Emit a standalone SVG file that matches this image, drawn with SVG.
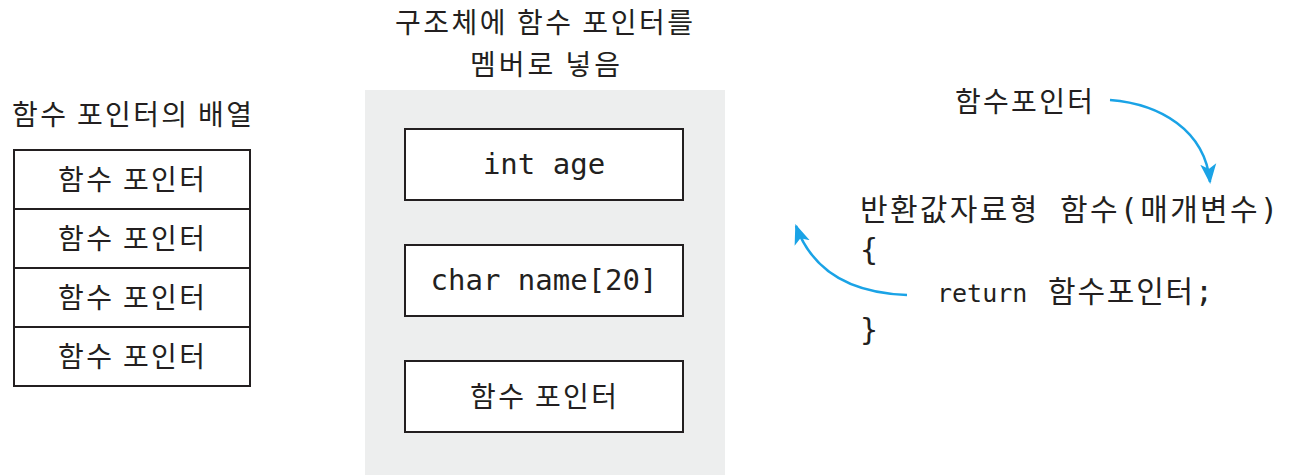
<svg xmlns="http://www.w3.org/2000/svg" width="1302" height="475" viewBox="0 0 1302 475">
<style>
.k{font-family:"Noto Sans CJK KR","Noto Sans",sans-serif;font-size:28px;fill:#231f20}
.m{font-family:"DejaVu Sans Mono","Noto Sans CJK KR",monospace;font-size:29px;fill:#231f20}
.c{font-family:"DejaVu Sans Mono","Noto Sans CJK KR",monospace;font-size:30px;fill:#231f20}
.box{fill:#fff;stroke:#231f20;stroke-width:2}
.arr{fill:none;stroke:#1aa3e6;stroke-width:2.5}
</style>
<defs>
<marker id="ah" viewBox="0 0 20 20" refX="18" refY="10" markerWidth="20" markerHeight="20" markerUnits="userSpaceOnUse" orient="auto">
<path d="M0,2 L20,10 L0,18 L5,10 Z" fill="#1aa3e6"/>
</marker>
</defs>
<rect x="0" y="0" width="1302" height="475" fill="#fff"/>
<g id="array">
<text class="k" x="12" y="125" textLength="240" lengthAdjust="spacing">함수 포인터의 배열</text>
<rect class="box" x="14" y="150" width="236" height="59"/>
<rect class="box" x="14" y="209" width="236" height="59"/>
<rect class="box" x="14" y="268" width="236" height="59"/>
<rect class="box" x="14" y="327" width="236" height="59"/>
<text class="k" x="58" y="190" textLength="147" lengthAdjust="spacing">함수 포인터</text>
<text class="k" x="58" y="249" textLength="147" lengthAdjust="spacing">함수 포인터</text>
<text class="k" x="58" y="308" textLength="147" lengthAdjust="spacing">함수 포인터</text>
<text class="k" x="58" y="367" textLength="147" lengthAdjust="spacing">함수 포인터</text>
</g>
<g id="struct">
<text class="k" x="395" y="33" textLength="298" lengthAdjust="spacing">구조체에 함수 포인터를</text>
<text class="k" x="470" y="75" textLength="150" lengthAdjust="spacing">멤버로 넣음</text>
<rect x="365" y="90" width="360" height="385" fill="#edeeee"/>
<rect class="box" x="405" y="129" width="278" height="71"/>
<rect class="box" x="405" y="245" width="278" height="71"/>
<rect class="box" x="405" y="361" width="278" height="71"/>
<text class="m" x="544" y="174" text-anchor="middle">int age</text>
<text class="m" x="544" y="290" text-anchor="middle">char name[20]</text>
<text class="k" x="470" y="407" textLength="147" lengthAdjust="spacing">함수 포인터</text>
</g>
<g id="code">
<text class="k" x="955" y="112" textLength="138" lengthAdjust="spacing">함수포인터</text>
<text class="c" x="860" y="220" textLength="418" lengthAdjust="spacing">반환값자료형 함수(매개변수)</text>
<text class="c" x="860" y="260">{</text>
<text class="c" y="302"><tspan x="937" font-size="25">return</tspan><tspan x="1048" textLength="165" lengthAdjust="spacing">함수포인터;</tspan></text>
<text class="c" x="860" y="340">}</text>
</g>
<g id="connectors">
<path class="arr" d="M1110,100 C1160,104 1205,130 1210,182" marker-end="url(#ah)"/>
<path class="arr" d="M907,295 C850,293 812,270 796,226" marker-end="url(#ah)"/>
</g>
</svg>
